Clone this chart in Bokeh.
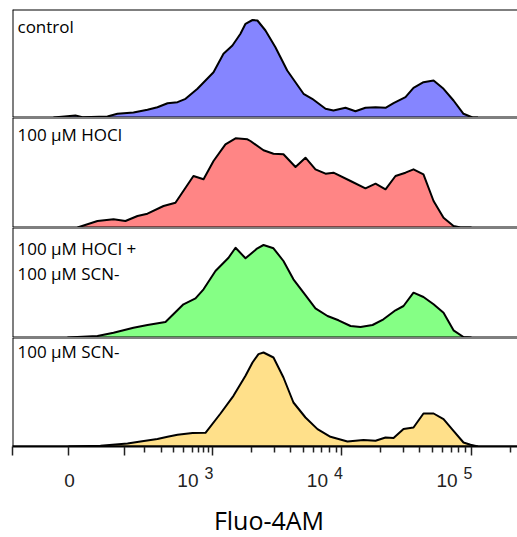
import math
from bokeh.plotting import figure
from bokeh.layouts import column
from bokeh.models import Range1d, Span, Label, FixedTicker, CustomJSTickFormatter
from bokeh.core.properties import value
from bokeh.embed import file_html
from bokeh.resources import INLINE

# ---- data (x in display "decade" units of the biexponential Fluo-4AM axis, y = event counts, a.u.)
control_x = [1.772, 1.942, 1.996, 2.189, 2.266, 2.390, 2.498, 2.575, 2.653, 2.730, 2.792, 2.884,
             3.008, 3.085, 3.154, 3.216, 3.255, 3.309, 3.347, 3.409, 3.486, 3.577, 3.703, 3.770,
             3.873, 3.934, 4.027, 4.104, 4.181, 4.259, 4.336, 4.398, 4.490, 4.552, 4.629, 4.707,
             4.784, 4.861, 4.938, 5.008, 5.05]
control_y = [0, 2, 0.3, 1, 3.7, 5, 7.7, 10.3, 14.3, 15.3, 18.7, 28.7,
             45.3, 63.7, 72, 83.7, 93.7, 97.5, 97, 87, 70.3, 47, 23.7, 18.7,
             8.7, 7, 9.7, 6.3, 9.7, 10.3, 9.7, 14.3, 20.3, 29.7, 35.3, 37,
             28.7, 17, 3.7, 0, 0]

hocl_x = [1.958, 2.112, 2.236, 2.328, 2.421, 2.498, 2.622, 2.714, 2.853, 2.931, 3.008, 3.100,
          3.178, 3.270, 3.293, 3.394, 3.471, 3.548, 3.641, 3.718, 3.795, 3.873, 3.934, 4.066,
          4.181, 4.259, 4.336, 4.413, 4.490, 4.552, 4.629, 4.707, 4.784, 4.861, 4.915, 5.0]
hocl_y = [0, 6.5, 8.2, 6.5, 11.5, 13.8, 21.5, 24.8, 51.5, 48.2, 66.5, 83.2,
          89.2, 88.2, 86.5, 77.2, 73.8, 73.2, 60.5, 69.8, 58.2, 53.8, 54.8, 46.5,
          39.2, 43.8, 38.2, 51.5, 54.8, 58.2, 53.2, 26.5, 9.8, 1.5, 0, 0]

hocl_scn_x = [1.880, 2.112, 2.236, 2.390, 2.498, 2.637, 2.776, 2.869, 2.931, 3.023, 3.124, 3.178,
              3.255, 3.347, 3.394, 3.471, 3.548, 3.625, 3.703, 3.795, 3.888, 3.973, 4.066, 4.143,
              4.236, 4.320, 4.413, 4.475, 4.552, 4.629, 4.707, 4.784, 4.861, 4.938, 5.0]
hocl_scn_y = [0, 1.5, 4.8, 9.8, 12.5, 15.5, 33.2, 39.2, 48.2, 66.5, 79.8, 89.8,
              79.2, 89.2, 92.5, 89.2, 76.5, 58.2, 44.8, 29.2, 21.5, 17.2, 11.5, 10.5,
              12.5, 18.2, 27.2, 31.5, 44.8, 40.5, 33.2, 24.8, 7.2, 0.5, 0]

scn_x = [1.888, 2.135, 2.344, 2.444, 2.575, 2.653, 2.730, 2.846, 2.946, 3.062, 3.162, 3.255,
         3.309, 3.355, 3.394, 3.471, 3.548, 3.625, 3.718, 3.811, 3.911, 4.042, 4.166, 4.259,
         4.336, 4.398, 4.475, 4.552, 4.629, 4.707, 4.784, 4.861, 4.938, 4.992, 5.05]
scn_y = [0, 0.7, 3, 5, 7.4, 9.7, 11.7, 13.4, 13.7, 33, 50.7, 70.7,
         84, 92.4, 94, 89, 69, 44, 29, 17.4, 9.7, 5, 6.4, 5.7,
         9, 8.4, 17.4, 19, 33, 33, 27.4, 15.7, 4, 1.7, 0]

panel_labels = [["control"], ["100 μM HOCl"], ["100 μM HOCl +", "100 μM SCN-"], ["100 μM SCN-"]]
fill_colors = ["#8585ff", "#ff8585", "#85ff85", "#ffe08a"]

# axis: display positions of -10^2, 0, 10^2 (linear part) and decades 10^3..10^5
major_ticks = [1.456, 1.888, 2.320, 3, 4, 5]
zero_tick = 1.888
zero_label = "0"
decade_ticks = [3, 4, 5]
decade_base = ["10", "10", "10"]
decade_exponents = ["3", "4", "5"]
minor_low = [2.477, 2.604, 2.701, 2.774, 2.843, 2.890, 2.933, 2.971]  # 200..900
minor_log = [math.log10(m * 10 ** e) for e in (3, 4) for m in range(2, 10)] + [math.log10(2e5)]
x_axis_label = "Fluo-4AM"

X0, X1 = 1.456, 5.355
W = 517

series = [(control_x, control_y), (hocl_x, hocl_y), (hocl_scn_x, hocl_scn_y), (scn_x, scn_y)]
frame_heights = [108, 110, 110, 109]
label_drop = [[17], [17], [21, 46], [14]]


def base_fig(height, fh, top, bottom, axis):
    p = figure(width=W, height=height,
               x_range=Range1d(X0, X1), y_range=Range1d(0, fh),
               output_backend="svg", toolbar_location=None,
               x_axis_location="below" if axis else None, y_axis_location=None,
               min_border_left=12, min_border_right=0,
               min_border_top=top, min_border_bottom=bottom)
    p.outline_line_color = None
    p.grid.grid_line_color = None
    p.background_fill_color = "white"
    p.border_fill_color = "white"
    return p


figs = []
for i, (xs, ys) in enumerate(series):
    last = i == len(series) - 1
    fh = frame_heights[i]
    top = 9 if i == 0 else 0
    bottom = 14 if last else 0
    p = base_fig(fh + top + bottom, fh, top, bottom, last)

    p.varea(x=xs, y1=0, y2=ys, fill_color=fill_colors[i], fill_alpha=1.0)
    p.line(xs, ys, line_color="black", line_width=2, line_join="round")

    p.add_layout(Span(location=fh, dimension="width", line_color="black", line_width=2))
    p.add_layout(Span(location=0, dimension="width", line_color="black", line_width=2))
    p.add_layout(Span(location=X0, dimension="height", line_color="black", line_width=2))

    for j, txt in enumerate(panel_labels[i]):
        p.add_layout(Label(x=X0, y=fh, x_offset=5, y_offset=-label_drop[i][j], text=txt,
                           text_font="Open Sans", text_font_size="17px", text_color="black",
                           text_align="left", text_baseline="alphabetic"))

    if last:
        ax = p.xaxis[0]
        ax.ticker = FixedTicker(ticks=major_ticks, minor_ticks=minor_low + minor_log)
        ax.formatter = CustomJSTickFormatter(code="return ''")
        ax.major_label_text_font_size = "1px"
        ax.major_label_standoff = 0
        ax.axis_line_color = "black"
        ax.axis_line_width = 2
        ax.major_tick_in = 0
        ax.major_tick_out = 9
        ax.minor_tick_in = 0
        ax.minor_tick_out = 6
        ax.major_tick_line_width = 1.5
        ax.minor_tick_line_width = 1.5
        ax.major_tick_line_color = "#222222"
        ax.minor_tick_line_color = "#222222"
    figs.append(p)

# strip under the axis: tick labels (10 with raised exponent) and the axis title
strip_h = 76
q = base_fig(strip_h, strip_h, 0, 0, False)
tick_font = value("Liberation Sans")
q.text(x=[zero_tick], y=[56], text=[zero_label], x_offset=1,
       text_font=tick_font, text_font_size="19px", text_color="#222222",
       text_align="center", text_baseline="alphabetic")
q.text(x=decade_ticks, y=[56] * len(decade_ticks), text=decade_base, x_offset=-14,
       text_font=tick_font, text_font_size="19px", text_color="#222222",
       text_align="right", text_baseline="alphabetic")
q.text(x=decade_ticks, y=[64] * len(decade_ticks), text=decade_exponents, x_offset=-8,
       text_font=tick_font, text_font_size="16px", text_color="#222222",
       text_align="left", text_baseline="alphabetic")
q.text(x=[(X0 + X1) / 2], y=[17], text=[x_axis_label], x_offset=4,
       text_font=value("Open Sans"), text_font_size="25px", text_color="black",
       text_align="center", text_baseline="alphabetic")
figs.append(q)

layout = column(*figs, spacing=0)
open("out.html", "w").write(file_html(layout, INLINE))
